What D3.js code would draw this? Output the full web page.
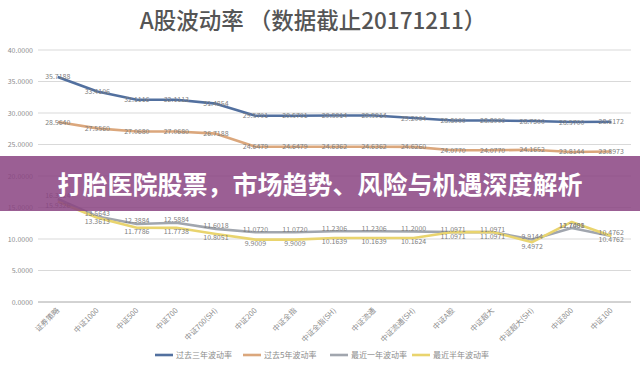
<!DOCTYPE html>
<html>
<head>
<meta charset="utf-8">
<script src="https://cdn.jsdelivr.net/npm/d3@7"></script>
<style>
  body { margin: 0; background: #fff; }
  svg { display: block; font-family: "Noto Sans CJK SC", "Noto Sans", sans-serif; }
</style>
</head>
<body>
<div id="chart"></div>
<script>
// Catégories (indices)
const categories = ["证券策略", "中证1000", "中证500", "中证700", "中证700(SH)", "中证200", "中证全指", "中证全指(SH)",
  "中证流通", "中证流通(SH)", "中证A股", "中证超大", "中证超大(SH)", "中证800", "中证100"];

// Séries
const past3Y = [35.7188, 33.4106, 32.1116, 32.1113, 31.4854, 29.5701, 29.5701, 29.5914, 29.5914, 29.2004, 28.8000, 28.8000, 28.7300, 28.5700, 28.6172];
const past5Y = [28.5640, 27.5560, 27.0680, 27.0680, 26.7188, 24.6479, 24.6479, 24.6362, 24.6362, 24.6260, 24.0770, 24.0770, 24.1652, 23.8144, 23.8973];
const last1Y = [16.3524, 13.5643, 12.3884, 12.5884, 11.6018, 11.0720, 11.0720, 11.2306, 11.2306, 11.2000, 11.0971, 11.0971, 9.9144, 11.7408, 10.4762];
const lastHalfY = [15.9326, 13.3613, 11.7786, 11.7738, 10.8051, 9.9009, 9.9009, 10.1639, 10.1639, 10.1624, 11.0971, 11.0971, 9.4972, 12.7081, 10.4762];

const seriesNames = ["过去三年波动率", "过去5年波动率", "最近一年波动率", "最近半年波动率"];
const yTicks = [0, 5, 10, 15, 20, 25, 30, 35, 40];

const series = [
  { name: seriesNames[0], values: past3Y, color: "#52709f", dy: 0 },
  { name: seriesNames[1], values: past5Y, color: "#dba77c", dy: 0 },
  { name: seriesNames[2], values: last1Y, color: "#a1a6ae", dy: -3 },
  { name: seriesNames[3], values: lastHalfY, color: "#e9d46e", dy: 4 }
];

const width = 640, height = 369;
const margin = { left: 38, right: 9, top: 50, bottom: 67 };

const svg = d3.select("#chart").append("svg")
  .attr("width", width)
  .attr("height", height);

// Échelles
const x = d3.scalePoint()
  .domain(categories)
  .range([margin.left, width - margin.right])
  .padding(0.5);

const y = d3.scaleLinear()
  .domain([0, 40])
  .range([height - margin.bottom, margin.top]);

// Titre
svg.append("text")
  .attr("x", 313)
  .attr("y", 29)
  .attr("text-anchor", "middle")
  .attr("font-size", "22.5px")
  .attr("font-weight", 500)
  .attr("fill", "#555555")
  .text("A股波动率 （数据截止20171211）");

// Grille horizontale
svg.append("g").selectAll("line")
  .data(yTicks)
  .join("line")
  .attr("x1", margin.left)
  .attr("x2", width - margin.right)
  .attr("y1", d => y(d))
  .attr("y2", d => y(d))
  .attr("stroke", d => d === 0 ? "#a6a6a6" : "#d9d9d9")
  .attr("stroke-width", 1);

// Étiquettes de l'axe Y
svg.append("g").selectAll("text")
  .data(yTicks)
  .join("text")
  .attr("x", 33)
  .attr("y", d => y(d) + 2.5)
  .attr("text-anchor", "end")
  .attr("font-size", "7px")
  .attr("fill", "#8c8c8c")
  .text(d => d3.format(".4f")(d));

// Étiquettes de l'axe X (inclinées)
svg.append("g").selectAll("text")
  .data(categories)
  .join("text")
  .attr("transform", d => `translate(${x(d) + 2},${y(0) + 9}) rotate(-45)`)
  .attr("text-anchor", "end")
  .attr("font-size", "7.5px")
  .attr("fill", "#8c8c8c")
  .text(d => d);

// Lignes des séries
const line = d3.line()
  .x((d, i) => x(categories[i]))
  .y(d => y(d));

svg.append("g").selectAll("path")
  .data(series)
  .join("path")
  .attr("d", d => line(d.values))
  .attr("fill", "none")
  .attr("stroke", d => d.color)
  .attr("stroke-width", 2.6)
  .attr("stroke-linejoin", "round");

// Étiquettes de données
series.forEach(s => {
  svg.append("g").selectAll("text")
    .data(s.values)
    .join("text")
    .attr("x", (d, i) => x(categories[i]))
    .attr("y", d => y(d) + 2.5 + s.dy)
    .attr("text-anchor", "middle")
    .attr("font-size", "7px")
    .attr("fill", "#7f7f7f")
    .text(d => d3.format(".4f")(d));
});

// Légende
const legendX = [155, 243, 330, 412];
const legend = svg.append("g").selectAll("g")
  .data(series)
  .join("g")
  .attr("transform", (d, i) => `translate(${legendX[i]},355)`);

legend.append("line")
  .attr("x1", 0).attr("x2", 18)
  .attr("y1", 0).attr("y2", 0)
  .attr("stroke", d => d.color)
  .attr("stroke-width", 2.6);

legend.append("text")
  .attr("x", 21)
  .attr("y", 3)
  .attr("font-size", "8px")
  .attr("fill", "#8c8c8c")
  .text(d => d.name);

// Bandeau violet par-dessus le graphique
svg.append("rect")
  .attr("x", 0)
  .attr("y", 156)
  .attr("width", width)
  .attr("height", 55)
  .attr("fill", "rgb(138,67,129)")
  .attr("opacity", 0.85);

svg.append("text")
  .attr("x", 320)
  .attr("y", 194)
  .attr("text-anchor", "middle")
  .attr("font-size", "25px")
  .attr("font-weight", "bold")
  .attr("fill", "#ffffff")
  .text("打胎医院股票，市场趋势、风险与机遇深度解析");
</script>
</body>
</html>
